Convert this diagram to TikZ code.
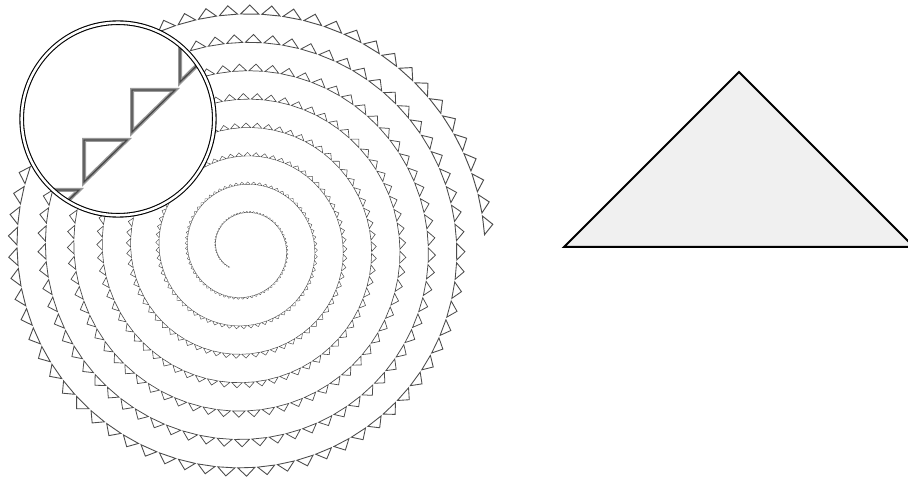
\documentclass[tikz,border=0pt]{standalone}
\begin{document}
\begin{tikzpicture}[x=1pt,y=-1pt,
  marker/.style={draw=black!70, line join=miter},
  lensring/.style={draw=black, line width=1.1pt, double=white, double distance=2.5pt},
  zoomtri/.style={draw=black!40, line width=4pt, line join=miter},
  zoomedge/.style={draw=black!72, line width=1.3pt, line join=miter},
  bigtri/.style={draw=black, fill=black!6, line width=2pt, line join=miter}]
\useasboundingbox (0,0) rectangle (908,481);
\fill[white] (0,0) rectangle (908,481);
% spiral of triangles
\foreach \d in {-51,-45.8,...,2696} {
  \pgfmathsetmacro\r{28+0.07889*\d}
  \pgfmathsetmacro\cs{cos(\d)}
  \pgfmathsetmacro\sn{sin(\d)}
  \pgfmathsetmacro\px{244-\r*\cs}
  \pgfmathsetmacro\py{248-\r*\sn}
  \pgfmathsetmacro\k{4.52/\r}
  \pgfmathsetmacro\L{sqrt(1+\k*\k)}
  \pgfmathsetmacro\h{0.039*\r}
  \pgfmathsetmacro\lw{0.15+0.0033*\r}
  \pgfmathsetmacro\tx{\h*(\sn-\k*\cs)/\L}
  \pgfmathsetmacro\ty{\h*(-\k*\sn-\cs)/\L}
  \pgfmathsetmacro\ax{\px-\tx}
  \pgfmathsetmacro\ay{\py-\ty}
  \pgfmathsetmacro\bx{\px+\tx}
  \pgfmathsetmacro\by{\py+\ty}
  \pgfmathsetmacro\cx{\px+\ty}
  \pgfmathsetmacro\cy{\py-\tx}
  \draw[marker, line width=\lw pt] (\ax,\ay) -- (\bx,\by) -- (\cx,\cy) -- cycle;
}
% magnifier
\fill[white] (118,119) circle[radius=96];
\begin{scope}
  \clip (118,119) circle[radius=95];
  \foreach \qx/\qy in {180/40,132/90,84/140,36/190} {
    \draw[zoomtri] (\qx,\qy) -- ++(43,0) -- ++(-43,42) -- cycle;
    \draw[zoomedge] (\qx,\qy) -- ++(43,0) -- ++(-43,42) -- cycle;
  }
\end{scope}
\draw[lensring] (118,119) circle[radius=96.3];
% large triangle
\draw[bigtri] (564,247) -- (739,72) -- (914,247) -- cycle;
\end{tikzpicture}
\end{document}
